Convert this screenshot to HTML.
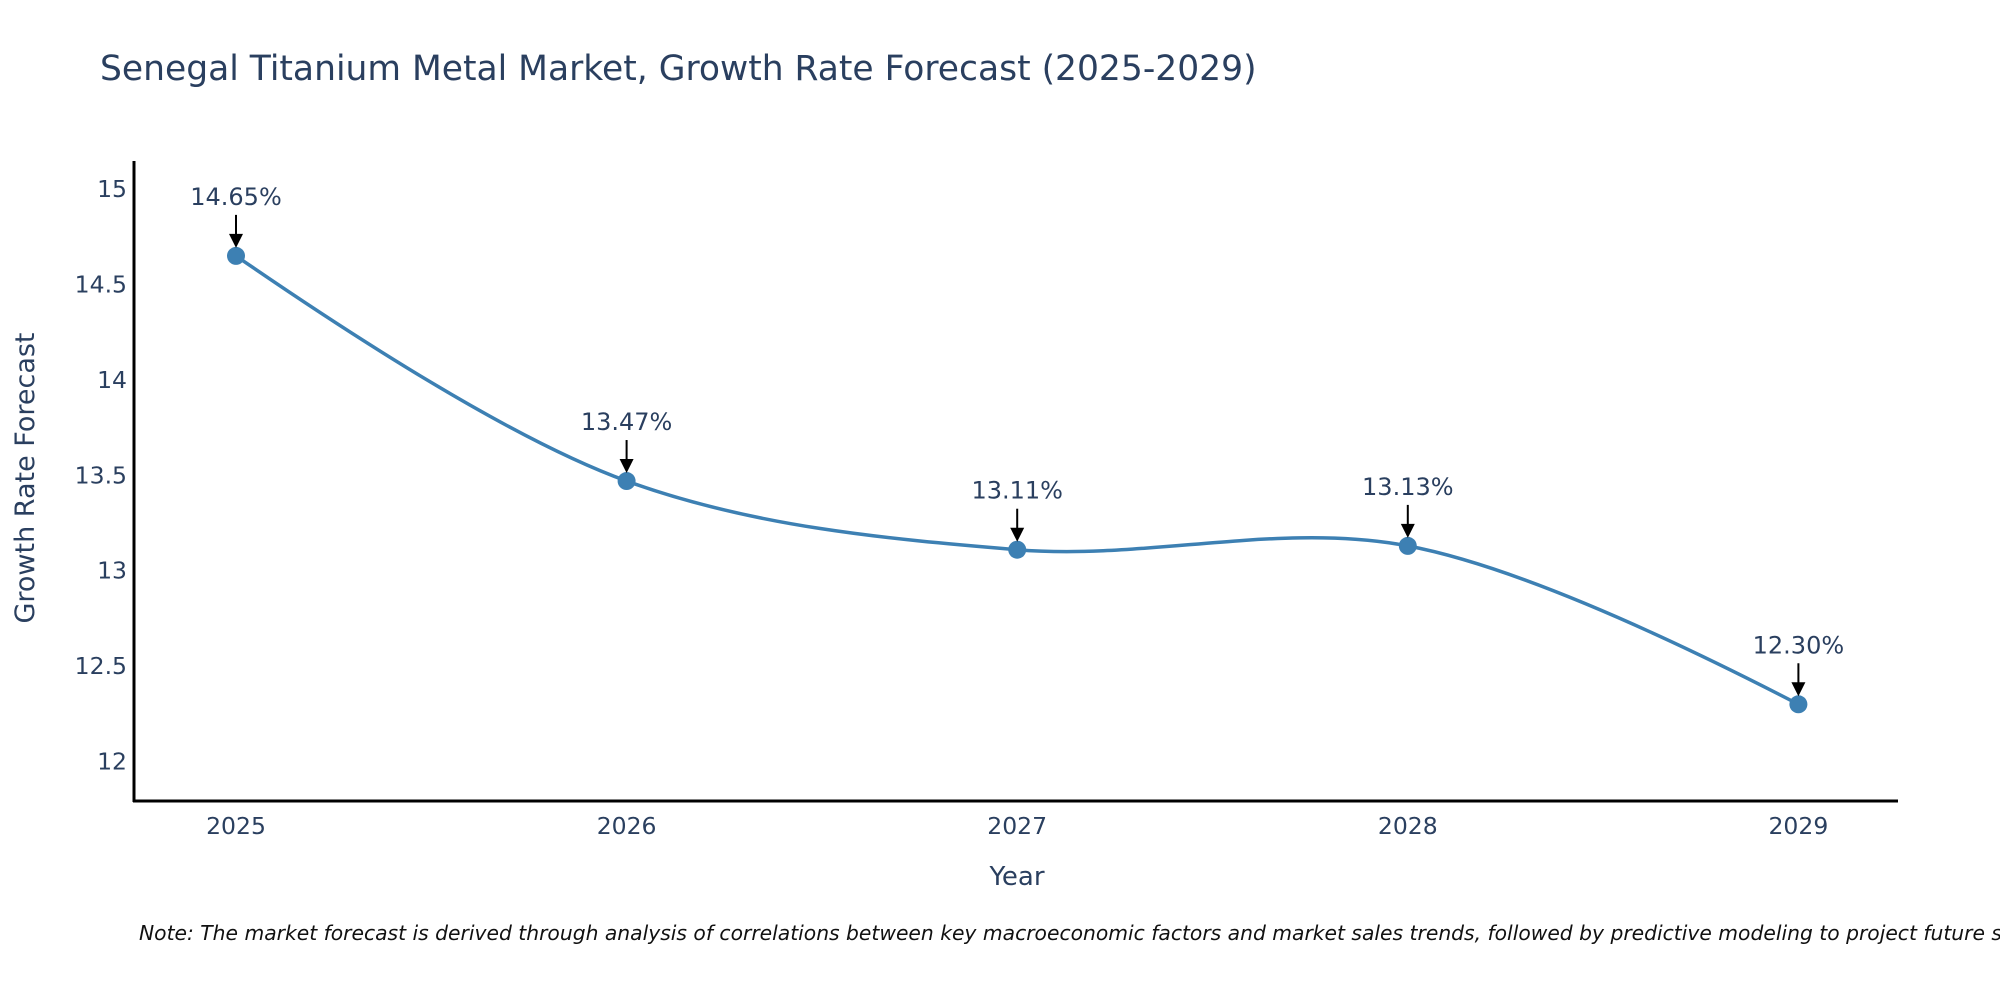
<!DOCTYPE html>
<html><head><meta charset="utf-8"><style>
body{margin:0;background:#fff;width:2000px;height:1000px;overflow:hidden}
text{font-family:"DejaVu Sans","Liberation Sans",sans-serif;fill:#2a3f5f}
</style></head><body>
<svg id="chart" width="2000" height="1000">
<text x="100" y="80" font-size="34.5">Senegal Titanium Metal Market, Growth Rate Forecast (2025-2029)</text>
<g id="yticks"></g>
<g id="xticks"></g>
<line x1="134" y1="161" x2="134" y2="802" stroke="#000" stroke-width="3"/>
<line x1="133" y1="801" x2="1898" y2="801" stroke="#000" stroke-width="3"/>
<text x="1017" y="885" font-size="26" text-anchor="middle">Year</text>
<text transform="translate(34,478) rotate(-90)" font-size="27" text-anchor="middle">Growth Rate Forecast</text>
<g id="series"></g>
<g id="annots"></g>
<text x="139" y="940" font-size="20.3" font-style="italic" style="fill:#111">Note: The market forecast is derived through analysis of correlations between key macroeconomic factors and market sales trends, followed by predictive modeling to project future sales.</text>
</svg>
<script>
const years = ["2025","2026","2027","2028","2029"];
const values = [14.65, 13.47, 13.11, 13.13, 12.30];
const valueLabels = ["14.65%","13.47%","13.11%","13.13%","12.30%"];
const yTickValues = [12, 12.5, 13, 13.5, 14, 14.5, 15];
const yTickLabels = ["12","12.5","13","13.5","14","14.5","15"];

const NS = "http://www.w3.org/2000/svg";
function xs(i){ return 236 + i*390.6; }
function ys(v){ return 761.5 - (v-12)*190.8; }
function mk(tag, attrs, parent){ const e=document.createElementNS(NS,tag); for(const k in attrs) e.setAttribute(k,attrs[k]); parent.appendChild(e); return e; }

const yt=document.getElementById('yticks');
yTickValues.forEach((v,i)=>{
  const t=mk('text',{x:127,y:ys(v)+8,'font-size':23.5,'text-anchor':'end'},yt);
  t.textContent=yTickLabels[i];
  
  
});
const xt=document.getElementById('xticks');
years.forEach((y,i)=>{
  const t=mk('text',{x:xs(i),y:834,'font-size':23.5,'text-anchor':'middle'},xt);
  t.textContent=y;
  
  
});

const pts=values.map((v,i)=>[xs(i),ys(v)]);
function tangent(p0,p1,p2,s){
  const d1x=p0[0]-p1[0],d1y=p0[1]-p1[1],d2x=p2[0]-p1[0],d2y=p2[1]-p1[1];
  const d1a=Math.pow(d1x*d1x+d1y*d1y,0.25),d2a=Math.pow(d2x*d2x+d2y*d2y,0.25);
  const nx=(d2a*d2a*d1x-d1a*d1a*d2x)*s,ny=(d2a*d2a*d1y-d1a*d1a*d2y)*s;
  const den1=3*d2a*(d1a+d2a),den2=3*d1a*(d1a+d2a);
  return [[p1[0]+nx/den1,p1[1]+ny/den1],[p1[0]-nx/den2,p1[1]-ny/den2]];
}
const tg=[];
for(let i=1;i<pts.length-1;i++) tg.push(tangent(pts[i-1],pts[i],pts[i+1],1));
const P=p=>p[0].toFixed(2)+","+p[1].toFixed(2);
let d="M"+P(pts[0])+"Q"+P(tg[0][0])+" "+P(pts[1]);
for(let i=2;i<pts.length-1;i++) d+="C"+P(tg[i-2][1])+" "+P(tg[i-1][0])+" "+P(pts[i]);
d+="Q"+P(tg[tg.length-1][1])+" "+P(pts[pts.length-1]);
const sg=document.getElementById('series');
const line=mk('path',{d:d,fill:'none',stroke:'#3d80b3','stroke-width':3.5},sg);


pts.forEach((p,i)=>{
  const c=mk('circle',{cx:p[0],cy:p[1],r:9,fill:'#3d80b3'},sg);
  
  
});
const ag=document.getElementById('annots');
pts.forEach((p,i)=>{
  const t=mk('text',{x:p[0],y:p[1]-51,'font-size':24,'text-anchor':'middle'},ag);
  t.textContent=valueLabels[i];
  
  
  const l=mk('line',{x1:p[0],y1:p[1]-41,x2:p[0],y2:p[1]-20,stroke:'#000','stroke-width':2},ag);
  
  
  const h=mk('polygon',{points:`${p[0]-7},${p[1]-22} ${p[0]+7},${p[1]-22} ${p[0]},${p[1]-8}`,fill:'#000'},ag);
  
  
});
</script>
</body></html>
